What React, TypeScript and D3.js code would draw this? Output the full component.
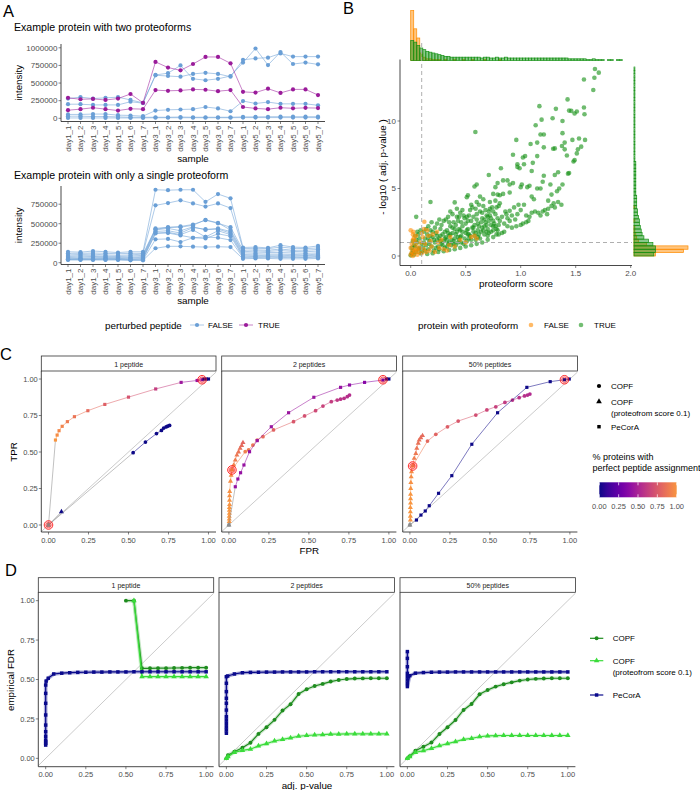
import React from "react";
import * as d3 from "d3";

const FONT = "'Liberation Sans', Arial, Helvetica, sans-serif";
const TICK_COL = "#4D4D4D";
const AX = "#1A1A1A";

// ================= Panel A data =================
const samples = ["day1_1","day1_2","day1_3","day1_4","day1_5","day1_6","day1_7","day3_1","day3_2","day3_3","day3_4","day3_5","day3_6","day3_7","day5_1","day5_2","day5_3","day5_4","day5_5","day5_6","day5_7"];
const intensityTicksTop = [0, 250000, 500000, 750000, 1000000];
const intensityTicksBottom = [0, 250000, 500000, 750000];
// intensities in thousands
const twoPfFalse = [
  [280,300,280,290,300,260,220, 615,640,750,560,540,560,600, 790,990,755,940,770,790,765],
  [200,200,190,190,190,235,215, 610,600,590,630,645,630,590, 830,850,860,920,875,875,875],
  [55,55,60,60,45,40,30, 110,120,125,130,160,140,100, 245,210,230,205,205,205,185],
  [30,30,25,25,20,15,15, 15,15,18,15,15,15,15, 20,20,22,23,23,23,23],
  [5,5,5,5,5,5,5, 8,8,8,8,8,8,8, 10,10,10,10,10,10,10],
];
const twoPfTrue = [
  [290,270,275,260,280,345,220, 800,720,680,770,870,870,780, 375,365,420,360,410,410,330],
  [115,130,150,130,110,135,130, 400,390,395,410,405,385,400, 160,140,130,150,142,148,145],
];
const onePfFalse = [
  [140,135,150,140,130,140,140, 935,930,935,935,780,880,825, 195,200,190,225,200,195,215],
  [120,120,125,120,115,120,120, 735,765,800,760,720,760,700, 180,185,180,200,185,180,190],
  [100,105,110,100,95,100,110, 440,455,465,490,545,505,455, 160,165,160,175,160,160,170],
  [85,90,90,85,80,85,95, 430,450,455,480,550,510,420, 140,150,145,155,145,140,150],
  [75,75,80,75,70,70,80, 420,440,410,460,420,440,400, 125,125,130,130,125,120,125],
  [65,60,65,65,60,60,70, 400,410,380,450,430,430,380, 105,110,110,110,105,100,110],
  [55,55,55,55,55,50,55, 380,390,360,420,330,410,360, 90,90,95,95,90,90,95],
  [45,45,45,50,45,40,45, 375,380,350,320,310,370,340, 75,80,80,80,75,75,80],
  [40,40,40,40,40,35,35, 300,305,265,320,330,320,290, 65,65,70,65,70,65,70],
  [35,35,35,35,35,30,30, 185,210,210,205,200,205,200, 50,55,55,50,50,50,55],
];
const BLUE = "#6A9FD6";
const PURPLE = "#9A1B9A";

// ================= Panel B data =================
const scoreTicks = [0, 0.5, 1, 1.5, 2];
const scoreTickLabels = ["0.0", "0.5", "1.0", "1.5", "2.0"];
const pTicks = [0, 5, 10];
const greenPts: [number, number][] = [
  [1.675,13.85],[1.71,13.58],[1.67,13.2],[1.575,13.07],[1.66,12.3],[1.426,11.6],[1.17,11.1],[1.32,10.9],[1.575,11.0],[1.44,10.77],[1.46,10.75],[1.51,10.7],[1.49,10.55],[1.58,10.5],[1.19,10.1],[1.29,10.2],[1.38,10.0],[1.136,9.68],[1.18,9.0],[1.21,9.0],[1.38,9.1],[0.588,9.18],[0.96,8.6],[1.47,8.6],[1.53,8.7],[1.585,8.6],[1.09,8.3],[1.15,8.4],[1.31,7.97],[1.295,7.95],[1.21,8.05],[1.375,8.15],[1.4,8.4],[1.42,7.45],[1.4,7.9],[1.52,7.9],[1.55,8.1],[1.51,7.6],[1.48,7.0],[1.49,7.1],[0.93,7.5],[1.02,7.3],[1.04,7.4],[0.97,6.6],[0.99,6.5],[0.97,6.8],[1.03,6.8],[1.11,6.9],[1.15,7.4],[1.1,6.3],[0.82,6.5],[0.71,6.0],[1.21,5.95],[1.31,6.0],[1.34,6.2],[1.43,6.1],[1.44,6.15],[1.2,5.5],[1.27,5.3],[1.33,4.8],[1.38,5.3],[1.35,5.0],[1.15,5.0],[1.18,5.0],[1.06,5.1],[1.08,5.2],[1.0,5.1],[1.01,5.3],[0.93,5.4],[0.9,5.3],[0.9,4.7],[0.88,5.6],[0.84,5.6],[0.79,5.4],[0.77,5.1],[0.6,5.3],[0.58,5.15],[0.52,4.5],[0.51,4.35],[0.4,3.97],[0.18,4.0],[0.05,2.9],[1.28,4.55],[1.37,3.8],[1.25,4.1],[1.3,3.9],[1.34,4.0],[1.1,4.4],[1.12,4.2],[0.97,3.1],[0.87,3.1],[0.9,3.35],[0.78,3.6],[0.72,3.5],[0.75,3.3],[0.81,4.5],[0.84,4.6],[0.75,4.6],[0.79,4.55],[0.81,3.9],[0.66,4.2],[0.6,4.0],
  [0.83,1.7],[0.88,2.2],[0.92,2.1],[0.96,2.2],[1.0,2.3],[1.02,2.4],[1.05,2.5],[1.07,2.6],[1.08,2.9],[1.1,3.2],[1.13,3.3],[1.16,3.2],[1.2,3.3],[1.22,3.4],[1.25,3.5],[1.28,3.7],[1.31,3.6],[1.24,3.1],[1.18,3.0],[1.05,3.0],[0.95,2.7],[0.9,2.6],[0.85,2.4],[0.78,2.0],[0.8,2.3],[0.75,2.2],
  [0.1,0.3],[0.11,0.6],[0.12,1.0],[0.13,1.3],[0.14,0.8],[0.15,1.6],[0.16,0.5],[0.17,1.1],[0.18,1.9],[0.19,0.7],[0.2,1.4],[0.12,1.8],[0.14,2.0],[0.16,2.2],[0.18,1.5],
  [0.21,0.4],[0.22,1.0],[0.23,1.7],[0.24,2.4],[0.25,0.7],[0.26,1.3],[0.27,2.0],[0.28,0.9],[0.29,1.6],[0.3,2.6],[0.22,2.1],[0.24,1.2],[0.26,0.5],[0.28,2.3],[0.3,1.1],
  [0.31,0.6],[0.32,1.4],[0.33,1.9],[0.34,2.9],[0.35,1.0],[0.36,2.2],[0.37,0.8],[0.38,1.7],[0.39,2.5],[0.4,1.3],[0.32,2.7],[0.34,0.9],[0.36,1.6],[0.38,3.1],[0.4,2.0],[0.33,1.2],
  [0.41,0.8],[0.42,1.8],[0.43,2.6],[0.44,1.2],[0.45,3.2],[0.46,1.5],[0.47,2.2],[0.48,0.9],[0.49,2.8],[0.5,1.7],[0.42,3.5],[0.44,2.0],[0.46,1.0],[0.48,3.0],[0.5,2.4],[0.43,1.4],
  [0.51,1.1],[0.52,2.0],[0.53,3.0],[0.54,1.5],[0.55,2.6],[0.56,3.6],[0.57,1.8],[0.58,2.3],[0.59,1.2],[0.6,3.1],[0.52,1.6],[0.54,3.4],[0.56,2.1],[0.58,1.5],[0.6,2.7],[0.55,3.8],
  [0.61,1.4],[0.62,2.2],[0.63,3.3],[0.64,1.8],[0.65,2.8],[0.66,3.7],[0.67,1.6],[0.68,2.5],[0.69,3.0],[0.7,2.0],[0.62,3.8],[0.64,2.5],[0.66,1.9],[0.68,3.4],[0.7,1.5],[0.63,4.4],
  [0.71,2.6],[0.72,3.0],[0.73,1.8],[0.74,3.6],[0.76,2.4],[0.77,3.1],[0.78,1.6],[0.79,2.8],[0.8,3.7],[0.72,4.0],[0.75,1.9],[0.77,4.1],[0.73,2.3],
  [0.0,0.05],[0.01,0.2],[0.02,0.4],[0.03,0.1],[0.04,0.7],[0.05,0.3],[0.06,1.0],[0.07,0.5],[0.08,1.3],[0.09,0.2],[0.1,0.9],[0.02,1.1],[0.04,1.5],[0.06,1.8],[0.08,0.6],[0.03,0.8],[0.05,1.2],[0.07,1.6],[0.09,1.9],[0.01,0.6],
  [0.15,0.15],[0.2,0.2],[0.25,0.3],[0.3,0.35],[0.35,0.45],[0.4,0.5],[0.45,0.6],[0.5,0.7],[0.55,0.8],[0.6,0.9],[0.65,1.0],[0.7,1.2],[0.75,1.4],[0.8,1.6],[0.85,1.8],
  [0.27,1.5],[0.31,1.8],[0.35,2.5],[0.39,1.1],[0.41,2.3],[0.45,1.9],[0.47,3.4],[0.51,2.9],[0.53,1.3],[0.57,2.9],[0.59,3.5],[0.61,2.4],[0.65,3.2],[0.67,2.2],[0.69,1.8],[0.71,3.3],[0.26,2.7],[0.44,2.9],[0.36,3.3],[0.19,2.5],
  [0.13,0.4],[0.17,0.9],[0.21,1.2],[0.23,0.6],[0.27,1.1],[0.29,0.8],[0.31,1.3],[0.33,0.7],[0.35,1.5],[0.37,1.2],[0.39,0.9],[0.41,1.6],[0.43,1.0],[0.45,1.4],[0.47,1.8],[0.49,1.3],[0.51,1.9],[0.53,1.6],[0.55,1.2],[0.57,2.1],[0.59,1.7],[0.61,1.9],[0.63,1.3],[0.65,2.1],[0.67,2.7],[0.69,2.3],[0.71,1.7],[0.73,2.8],[0.75,2.6],[0.77,2.2],[0.79,1.9],[0.81,2.6],[0.83,2.9],[0.86,3.3],[0.88,2.8],[0.92,3.0],[0.94,3.6],[0.98,3.8],[1.0,3.4],[1.03,3.8],[0.24,1.5],[0.34,1.7],[0.46,2.5],[0.52,2.6],[0.62,1.6],[0.7,2.9],[0.16,1.3],[0.2,1.8],[0.38,2.1],[0.42,2.9]
];
const orangePts: [number, number][] = [
  [0.0,0.1],[0.01,0.3],[0.02,0.0],[0.03,0.5],[0.0,0.6],[0.01,0.9],[0.02,1.2],[0.03,0.2],[0.04,0.4],[0.05,0.8],[0.06,0.1],[0.07,0.3],[0.08,0.6],[0.02,1.6],[0.0,1.9],[0.05,1.5],[0.09,1.0],[0.1,0.2],[0.11,1.4],[0.12,0.5],[0.13,0.9],[0.15,1.9],[0.16,1.5],[0.17,0.4],[0.18,1.1],[0.19,0.7],[0.2,1.6],[0.22,0.3],[0.24,1.8],[0.26,0.6],[0.28,1.2],[0.3,0.5],[0.33,0.4],[0.36,1.4],[0.4,0.7],[0.45,1.2],[0.124,2.54],[0.024,1.8],[0.04,1.1],[0.1,1.7],[0.14,0.3],[0.06,0.5],[0.55,1.4],[0.58,1.5],[0.6,1.3],[0.35,0.8],[0.5,1.0],[0.03,1.35],[0.12,2.0],[0.25,1.0]
];
const histBinScore = 0.0275;
const orangeTopCounts = [60,38,27,9,4,2,2,1,1,1,0,1,0,0,1,0,0,1,0,0,1,0,0,0,1,0,0,0,0,1,0,0,0,0,0,0,0,0,0,0,0,0,0,0,0,0,0,0,0,0,0,0,0,0,0,0,0,0,0,0,0,0,0,0,0,0,0,0,0,0];
const greenTopCounts = [24,22,18,15,13,11,10,9,8,7,6,5,5,4,4,4,4,4,4,4,4,4,4,3,4,4,3,3,4,3,3,4,3,3,3,3,3,3,3,3,3,3,3,3,3,3,3,3,3,3,3,3,2,2,2,2,2,2,1,1,2,1,1,1,0,1,1,0,1,1];
const histBinP = 0.25;
const orangeRightCounts = [24,55,60,14,5,3,2,1,1,0,1,0,0,0,1,0,0,0,0,0,0,0,0,0,0,0,0,0,0,0,0,0,0,0,0,0,0,0,0,0,0,0,0,0,0,0,0,0,0,0,0,0,0,0,0,0];
const greenRightCounts = [22,24,24,21,16,11,9,8,7,6,6,5,4,4,3,3,3,3,2,2,2,2,2,2,2,2,2,2,1,1,1,1,1,1,1,1,1,1,1,1,1,1,1,1,1,1,1,1,1,1,1,1,1,1,1,1];
const ORANGE = "#FF8C00";
const GREEN = "#169216";

// ================= Panel C data =================
const facets = ["1 peptide", "2 peptides", "50% peptides"];
const rateTicks = [0, 0.25, 0.5, 0.75, 1];
const rateLabels = ["0.00", "0.25", "0.50", "0.75", "1.00"];
type RocPt = [number, number, number | null];
const rocPeCorA: RocPt[][] = [
  [[0,0,null],[0.0435,0.582,1.0],[0.054,0.616,0.97],[0.066,0.646,0.95],[0.0855,0.676,0.93],[0.118,0.708,0.9],[0.162,0.742,0.87],[0.246,0.783,0.83],[0.352,0.826,0.78],[0.5,0.876,0.72],[0.67,0.932,0.62],[0.829,0.977,0.45],[0.929,0.99,0.42],[0.96,0.995,0.4],[0.972,1,0],[0.986,1,0],[1,1,0]],
  [[0,0,null],[0.04,0.262,0.42],[0.056,0.315,0.42],[0.073,0.358,0.42],[0.094,0.411,0.42],[0.129,0.502,0.42],[0.177,0.578,0.43],[0.265,0.673,0.43],[0.373,0.769,0.44],[0.531,0.875,0.44],[0.698,0.943,0.42],[0.754,0.959,0.4],[0.848,0.977,0.36],[0.963,0.993,0.3],[0.985,1,0],[1,1,0]],
  [[0,0,null],[0.041,0.034,0],[0.069,0.068,0],[0.096,0.096,0],[0.121,0.132,0],[0.179,0.217,0],[0.262,0.338,0],[0.387,0.553,0],[0.548,0.769,0],[0.731,0.943,0],[0.877,0.982,0],[0.966,0.995,0],[0.996,1,0]],
];
const rocCOPF: RocPt[][] = [
  [[0,0,null],[0.529,0.495,0],[0.606,0.568,0],[0.675,0.626,0],[0.706,0.648,0],[0.72,0.664,0],[0.735,0.672,0],[0.745,0.677,0],[0.757,0.682,0]],
  [[0.019,0.38,0.93],[0.102,0.502,0.92],[0.123,0.514,0.9],[0.15,0.548,0.88],[0.177,0.582,0.86],[0.213,0.605,0.83],[0.279,0.651,0.79],[0.404,0.708,0.74],[0.473,0.747,0.71],[0.542,0.783,0.68],[0.588,0.815,0.65],[0.64,0.845,0.62],[0.677,0.856,0.6],[0.698,0.862,0.58],[0.72,0.868,0.57],[0.74,0.879,0.56],[0.754,0.89,0.55]],
  [[0.02,0.41,0.9],[0.11,0.575,0.82],[0.162,0.621,0.8],[0.235,0.673,0.77],[0.302,0.712,0.74],[0.412,0.753,0.7],[0.481,0.788,0.67],[0.537,0.81,0.64],[0.594,0.84,0.61],[0.641,0.856,0.59],[0.683,0.872,0.57],[0.716,0.884,0.56],[0.735,0.89,0.55],[0.75,0.897,0.54]],
];
const rocCOPF01: RocPt[][] = [
  [[0,0,null],[0.081,0.091,0]],
  [[0,0,null],[0.002,0.023,1],[0.002,0.04,1],[0.002,0.06,1],[0.003,0.08,1],[0.003,0.1,1],[0.003,0.12,1],[0.004,0.14,0.99],[0.004,0.17,0.99],[0.004,0.2,0.98],[0.005,0.23,0.98],[0.01,0.3,0.97],[0.014,0.34,0.96],[0.019,0.377,0.95],[0.03,0.41,0.93],[0.04,0.445,0.91],[0.05,0.479,0.89],[0.06,0.5,0.87],[0.07,0.525,0.85],[0.08,0.545,0.83],[0.088,0.564,0.81]],
  [[0,0,null],[0.003,0.034,1],[0.003,0.06,1],[0.003,0.09,1],[0.003,0.12,1],[0.004,0.15,1],[0.004,0.18,1],[0.004,0.21,1],[0.005,0.25,0.99],[0.006,0.29,0.98],[0.008,0.33,0.97],[0.01,0.365,0.96],[0.017,0.404,0.94],[0.027,0.457,0.91],[0.037,0.49,0.89],[0.043,0.525,0.87],[0.052,0.56,0.86],[0.058,0.582,0.85],[0.068,0.598,0.84],[0.079,0.612,0.83]],
];
const rocMarked: [number, number][][] = [
  [[0,0],[0.96,0.995]],
  [[0.019,0.377],[0.963,0.995]],
  [[0.017,0.404],[0.966,0.995]],
];
const assignTicks = [0, 0.25, 0.5, 0.75, 1];

// ================= Panel D data =================
const fdrCOPF: [number, number][][] = [
  [[0.5,1],[0.55,1],[0.6,0.571],[0.65,0.571],[0.7,0.572],[0.75,0.572],[0.8,0.573],[0.85,0.574],[0.9,0.575],[0.95,0.575],[1,0.575]],
  [[0,0],[0.01,0.02],[0.05,0.042],[0.1,0.067],[0.15,0.099],[0.2,0.155],[0.25,0.197],[0.3,0.244],[0.35,0.303],[0.4,0.343],[0.45,0.408],[0.5,0.438],[0.55,0.459],[0.6,0.472],[0.65,0.487],[0.7,0.497],[0.75,0.503],[0.8,0.506],[0.85,0.507],[0.9,0.508],[0.95,0.508],[1,0.508]],
  [[0,0],[0.015,0.014],[0.05,0.048],[0.1,0.074],[0.15,0.1],[0.2,0.154],[0.25,0.197],[0.3,0.243],[0.35,0.307],[0.4,0.345],[0.45,0.406],[0.5,0.433],[0.55,0.455],[0.6,0.47],[0.65,0.482],[0.7,0.493],[0.75,0.5],[0.8,0.504],[0.85,0.506],[0.9,0.508],[0.95,0.508],[1,0.508]],
];
const fdrCOPF01: [number, number][][] = [
  [[0.55,1],[0.6,0.518],[0.65,0.518],[0.7,0.518],[0.75,0.518],[0.8,0.518],[0.85,0.518],[0.9,0.518],[0.95,0.518],[1,0.518]],
  [[0,0],[0.01,0.01],[0.05,0.038],[0.1,0.05],[0.15,0.058],[0.2,0.079],[0.25,0.093],[0.3,0.11],[0.35,0.12],[0.4,0.13],[0.45,0.14],[0.5,0.145],[0.55,0.148],[0.6,0.15],[0.65,0.153],[0.7,0.154],[0.75,0.155],[0.8,0.155],[0.85,0.155],[0.9,0.155],[0.95,0.155],[1,0.155]],
  [[0,0],[0.015,0.01],[0.05,0.038],[0.1,0.048],[0.15,0.063],[0.2,0.08],[0.25,0.093],[0.3,0.106],[0.35,0.12],[0.4,0.127],[0.45,0.137],[0.5,0.142],[0.55,0.144],[0.6,0.145],[0.65,0.145],[0.7,0.145],[0.75,0.145],[0.8,0.145],[0.85,0.145],[0.9,0.145],[0.95,0.145],[1,0.145]],
];
const fdrPeCorA: [number, number][][] = [
  [[0,0.084],[0,0.095],[0,0.105],[0,0.116],[0,0.14],[0,0.169],[0,0.211],[0,0.275],[0,0.349],[0,0.412],[0,0.465],[0.003,0.49],[0.016,0.508],[0.05,0.535],[0.1,0.54],[0.15,0.543],[0.2,0.545],[0.25,0.546],[0.3,0.547],[0.35,0.547],[0.4,0.548],[0.45,0.548],[0.5,0.548],[0.55,0.549],[0.6,0.549],[0.65,0.549],[0.7,0.549],[0.75,0.549],[0.8,0.549],[0.85,0.549],[0.9,0.549],[0.95,0.549],[1,0.549]],
  [[0,0.159],[0,0.18],[0,0.2],[0,0.222],[0,0.243],[0,0.264],[0,0.306],[0,0.349],[0,0.381],[0,0.423],[0,0.476],[0,0.518],[0.008,0.522],[0.05,0.535],[0.1,0.543],[0.15,0.545],[0.2,0.546],[0.25,0.547],[0.3,0.547],[0.35,0.548],[0.4,0.548],[0.45,0.548],[0.5,0.548],[0.55,0.549],[0.6,0.549],[0.65,0.549],[0.7,0.549],[0.75,0.549],[0.8,0.549],[0.85,0.549],[0.9,0.549],[0.95,0.549],[1,0.549]],
  [[0,0.677],[0,0.634],[0,0.581],[0,0.539],[0,0.518],[0,0.497],[0,0.476],[0,0.455],[0.015,0.524],[0.05,0.54],[0.1,0.544],[0.15,0.546],[0.2,0.547],[0.25,0.547],[0.3,0.548],[0.35,0.548],[0.4,0.548],[0.45,0.548],[0.5,0.548],[0.55,0.548],[0.6,0.548],[0.65,0.548],[0.7,0.548],[0.75,0.548],[0.8,0.548],[0.85,0.548],[0.9,0.548],[0.95,0.548],[1,0.548]],
];
const D_GREEN = "#1E8C1E";
const D_LIME = "#3ADC3A";
const D_NAVY = "#0A0A8C";

const plasmaC = (v: number | null) => (v == null ? "#8C8C8C" : d3.interpolatePlasma(v * 0.75));

const sym = (type: any, size: number) => d3.symbol().type(type).size(size)() as string;

// ================= Components =================
function IntensityPlot(props: any) {
  const { title, titleY, y, ticks, axisTop, axisY, sampleY, falseS, trueS } = props;
  const x = d3.scalePoint<string>().domain(samples).range([68, 318]);
  const line = d3.line<number>().x((_, i) => x(samples[i]) as number).y((d) => y(d * 1000));
  const render = (s: number[][], col: string) =>
    s.map((vals, k) => (
      <g key={k}>
        <path d={line(vals) as string} fill="none" stroke={col} strokeOpacity={0.55} strokeWidth={1} />
        {vals.map((v, i) => (
          <circle key={i} cx={x(samples[i])} cy={y(v * 1000)} r={2.1} fill={col} />
        ))}
      </g>
    ));
  return (
    <g>
      <text x={14} y={titleY} fontSize={10.6} fill="#000">{title}</text>
      {render(falseS, BLUE)}
      {render(trueS, PURPLE)}
      <line x1={61} x2={61} y1={axisTop} y2={axisY} stroke={AX} strokeWidth={0.8} />
      <line x1={61} x2={325} y1={axisY} y2={axisY} stroke={AX} strokeWidth={0.8} />
      {ticks.map((t: number) => (
        <g key={t}>
          <line x1={58.5} x2={61} y1={y(t)} y2={y(t)} stroke="#333" strokeWidth={0.6} />
          <text x={57.5} y={y(t)} dy="0.35em" textAnchor="end" fontSize={8} fill={TICK_COL}>{t}</text>
        </g>
      ))}
      {samples.map((s) => (
        <g key={s}>
          <line x1={x(s)} x2={x(s)} y1={axisY} y2={axisY + 2.5} stroke="#333" strokeWidth={0.6} />
          <text transform={`translate(${x(s)},${axisY + 4}) rotate(-90)`} textAnchor="end" dy="0.35em" fontSize={8} fill={TICK_COL}>{s}</text>
        </g>
      ))}
      <text x={193} y={sampleY} textAnchor="middle" fontSize={9.8}>sample</text>
      <text transform={`translate(22,${(axisTop + axisY) / 2}) rotate(-90)`} textAnchor="middle" fontSize={9.8}>intensity</text>
    </g>
  );
}

function PanelA() {
  const y1 = d3.scaleLinear().domain([0, 1e6]).range([118.3, 47.8]);
  const y2 = d3.scaleLinear().domain([0, 1e6]).range([262.7, 184.7]);
  return (
    <g>
      <text x={3} y={17} fontSize={16.5}>A</text>
      <IntensityPlot title="Example protein with two proteoforms" titleY={31} y={y1} ticks={intensityTicksTop} axisTop={44} axisY={121.5} sampleY={162} falseS={twoPfFalse} trueS={twoPfTrue} />
      <IntensityPlot title="Example protein with only a single proteoform" titleY={179} y={y2} ticks={intensityTicksBottom} axisTop={186} axisY={264.5} sampleY={304} falseS={onePfFalse} trueS={[]} />
      <text x={105} y={328.5} fontSize={9.8}>perturbed peptide</text>
      <line x1={190} x2={204} y1={325} y2={325} stroke={BLUE} strokeOpacity={0.55} />
      <circle cx={197} cy={325} r={2.1} fill={BLUE} />
      <text x={208} y={328} fontSize={8}>FALSE</text>
      <line x1={239} x2={253} y1={325} y2={325} stroke={PURPLE} strokeOpacity={0.55} />
      <circle cx={246} cy={325} r={2.1} fill={PURPLE} />
      <text x={258} y={328} fontSize={8}>TRUE</text>
    </g>
  );
}

function PanelB() {
  const x = d3.scaleLinear().domain([0, 2]).range([410.7, 630.7]);
  const y = d3.scaleLinear().domain([0, 10]).range([256, 121]);
  const hy = d3.scaleLinear().domain([0, 60]).range([60.5, 10.5]);
  const hx = d3.scaleLinear().domain([0, 60]).range([634, 688]);
  const topBars = (counts: number[], col: string) =>
    counts.map((c, i) => (
      <rect key={i} x={x(i * histBinScore)} width={x((i + 1) * histBinScore) - x(i * histBinScore)} y={hy(c)} height={hy(0) - hy(c)} fill={col} fillOpacity={0.5} stroke={col} strokeWidth={0.7} />
    ));
  const rightBars = (counts: number[], col: string) =>
    counts.map((c, i) => (
      <rect key={i} y={y((i + 1) * histBinP)} height={y(i * histBinP) - y((i + 1) * histBinP)} x={hx(0)} width={hx(c) - hx(0)} fill={col} fillOpacity={0.5} stroke={col} strokeWidth={0.7} />
    ));
  return (
    <g>
      <text x={343} y={13.5} fontSize={16.5}>B</text>
      {topBars(orangeTopCounts, ORANGE)}
      {topBars(greenTopCounts, GREEN)}
      {rightBars(orangeRightCounts, ORANGE)}
      {rightBars(greenRightCounts, GREEN)}
      {greenPts.map((p, i) => (
        <circle key={"g" + i} cx={x(p[0])} cy={y(p[1])} r={2.3} fill={GREEN} fillOpacity={0.62} />
      ))}
      {orangePts.map((p, i) => (
        <circle key={"o" + i} cx={x(p[0])} cy={y(p[1])} r={2.3} fill={ORANGE} fillOpacity={0.6} />
      ))}
      <line x1={x(0.1)} x2={x(0.1)} y1={43} y2={265.5} stroke="#A6A6A6" strokeDasharray="4,3" strokeWidth={0.9} />
      <line x1={400} x2={632} y1={y(1)} y2={y(1)} stroke="#A6A6A6" strokeDasharray="4,3" strokeWidth={0.9} />
      <line x1={400} x2={400} y1={59.5} y2={265.5} stroke={AX} strokeWidth={0.8} />
      <line x1={400} x2={632} y1={265.5} y2={265.5} stroke={AX} strokeWidth={0.8} />
      {scoreTicks.map((t, i) => (
        <g key={t}>
          <line x1={x(t)} x2={x(t)} y1={265.5} y2={268} stroke="#333" strokeWidth={0.6} />
          <text x={x(t)} y={276} textAnchor="middle" fontSize={8} fill={TICK_COL}>{scoreTickLabels[i]}</text>
        </g>
      ))}
      {pTicks.map((t) => (
        <g key={t}>
          <line x1={397.5} x2={400} y1={y(t)} y2={y(t)} stroke="#333" strokeWidth={0.6} />
          <text x={396} y={y(t)} dy="0.35em" textAnchor="end" fontSize={8} fill={TICK_COL}>{t}</text>
        </g>
      ))}
      <text x={516} y={287} textAnchor="middle" fontSize={9.8}>proteoform score</text>
      <text transform="translate(386,167) rotate(-90)" textAnchor="middle" fontSize={9.8}>- log10 ( adj. p-value )</text>
      <text x={418} y={328.5} fontSize={9.8}>protein with proteoform</text>
      <circle cx={531} cy={325} r={2.3} fill={ORANGE} fillOpacity={0.6} />
      <text x={544} y={328} fontSize={8}>FALSE</text>
      <circle cx={581} cy={325} r={2.3} fill={GREEN} fillOpacity={0.6} />
      <text x={594} y={328} fontSize={8}>TRUE</text>
    </g>
  );
}

function RocSeries({ pts, x, y, shape }: any) {
  const shapePath = shape === "circle" ? sym(d3.symbolCircle, 11) : shape === "triangle" ? sym(d3.symbolTriangle, 11) : sym(d3.symbolSquare, 10);
  return (
    <g>
      {pts.slice(0, -1).map((p: RocPt, i: number) => (
        <line key={i} x1={x(p[0])} y1={y(p[1])} x2={x(pts[i + 1][0])} y2={y(pts[i + 1][1])} stroke={plasmaC(p[2])} strokeOpacity={0.6} strokeWidth={0.9} />
      ))}
      {pts.map((p: RocPt, i: number) => (
        <path key={"p" + i} d={shapePath} transform={`translate(${x(p[0])},${y(p[1])})`} fill={plasmaC(p[2])} />
      ))}
    </g>
  );
}

function PanelC() {
  const lefts = [41.3, 221.7, 402.7];
  const w = 174.7;
  const y = d3.scaleLinear().domain([-0.048, 1.055]).range([532, 371]);
  const gradStops = [0, 0.1, 0.2, 0.3, 0.4, 0.5, 0.6, 0.7, 0.8, 0.9, 1];
  const cb = d3.scaleLinear().domain([0, 1]).range([599.3, 676.7]);
  return (
    <g>
      <text x={0} y={360} fontSize={16.5}>C</text>
      {facets.map((f, k) => {
        const L = lefts[k];
        const x = d3.scaleLinear().domain([-0.045, 1.047]).range([L, L + w]);
        return (
          <g key={f}>
            <rect x={L} y={356} width={w} height={15} fill="#FFFFFF" stroke="#333" strokeWidth={0.8} />
            <text x={L + w / 2} y={366.5} textAnchor="middle" fontSize={7} fill="#1A1A1A">{f}</text>
            <line x1={x(-0.045)} y1={y(-0.045)} x2={x(1.047)} y2={y(1.047)} stroke="#BEBEBE" strokeWidth={0.8} />
            <RocSeries pts={rocCOPF01[k]} x={x} y={y} shape="triangle" />
            <RocSeries pts={rocCOPF[k]} x={x} y={y} shape="circle" />
            <RocSeries pts={rocPeCorA[k]} x={x} y={y} shape="square" />
            {rocMarked[k].map((p, i) => (
              <g key={"m" + i}>
                <circle cx={x(p[0])} cy={y(p[1])} r={4.3} fill="#FF0000" fillOpacity={0.12} stroke="#FF1A1A" strokeWidth={0.9} />
                <circle cx={x(p[0])} cy={y(p[1])} r={2.7} fill="none" stroke="#FF1A1A" strokeWidth={0.6} />
              </g>
            ))}
            <line x1={L} x2={L} y1={371} y2={532} stroke={AX} strokeWidth={0.8} />
            <line x1={L} x2={L + w} y1={532} y2={532} stroke={AX} strokeWidth={0.8} />
            {rateTicks.map((t, i) => (
              <g key={t}>
                <line x1={x(t)} x2={x(t)} y1={532} y2={534.5} stroke="#333" strokeWidth={0.6} />
                <text x={x(t)} y={542.5} textAnchor="middle" fontSize={7.5} fill={TICK_COL}>{rateLabels[i]}</text>
              </g>
            ))}
            {k === 0 && rateTicks.map((t, i) => (
              <g key={"y" + t}>
                <line x1={L - 2.5} x2={L} y1={y(t)} y2={y(t)} stroke="#333" strokeWidth={0.6} />
                <text x={L - 3.5} y={y(t)} dy="0.35em" textAnchor="end" fontSize={7.5} fill={TICK_COL}>{rateLabels[i]}</text>
              </g>
            ))}
          </g>
        );
      })}
      <text x={309.3} y={554} textAnchor="middle" fontSize={9.8}>FPR</text>
      <text transform="translate(17,452) rotate(-90)" textAnchor="middle" fontSize={9.8}>TPR</text>
      <path d={sym(d3.symbolCircle, 14)} transform="translate(599,386)" fill="#000" />
      <text x={611} y={389} fontSize={8}>COPF</text>
      <path d={sym(d3.symbolTriangle, 14)} transform="translate(599,401.5)" fill="#000" />
      <text x={611} y={405} fontSize={8}>COPF</text>
      <text x={611} y={415.5} fontSize={8}>(proteofrom score 0.1)</text>
      <path d={sym(d3.symbolSquare, 12)} transform="translate(599,426.7)" fill="#000" />
      <text x={611} y={430} fontSize={8}>PeCorA</text>
      <text x={592.5} y={460} fontSize={9}>% proteins with</text>
      <text x={592.5} y={471} fontSize={9}>perfect peptide assignment</text>
      <defs>
        <linearGradient id="plasmaGrad" x1="0" x2="1" y1="0" y2="0">
          {gradStops.map((s) => (
            <stop key={s} offset={`${s * 100}%`} stopColor={plasmaC(s)} />
          ))}
        </linearGradient>
      </defs>
      <rect x={cb(0)} y={482.3} width={cb(1) - cb(0)} height={15} fill="url(#plasmaGrad)" />
      {assignTicks.map((t) => (
        <g key={t}>
          <line x1={cb(t)} x2={cb(t)} y1={482.3} y2={485.3} stroke="#FFF" strokeWidth={0.7} />
          <line x1={cb(t)} x2={cb(t)} y1={494.3} y2={497.3} stroke="#FFF" strokeWidth={0.7} />
          <text x={cb(t)} y={508.5} textAnchor="middle" fontSize={7.5} fill={TICK_COL}>{t.toFixed(2)}</text>
        </g>
      ))}
    </g>
  );
}

function FdrSeries({ pts, x, y, col, shape, halo }: any) {
  const line = d3.line<[number, number]>().x((d) => x(d[0])).y((d) => y(d[1]));
  const shapePath = shape === "circle" ? sym(d3.symbolCircle, 12) : shape === "triangle" ? sym(d3.symbolTriangle, 13) : sym(d3.symbolSquare, 12);
  return (
    <g>
      <path d={line(pts) as string} fill="none" stroke={col} strokeOpacity={halo} strokeWidth={3.6} />
      <path d={line(pts) as string} fill="none" stroke={col} strokeWidth={1.2} />
      {pts.map((p: [number, number], i: number) => (
        <path key={i} d={shapePath} transform={`translate(${x(p[0])},${y(p[1])})`} fill={col} />
      ))}
    </g>
  );
}

function PanelD() {
  const lefts = [38.3, 219, 400];
  const w = 175.4;
  const y = d3.scaleLinear().domain([-0.053, 1.053]).range([766.7, 592.3]);
  return (
    <g>
      <text x={5} y={576} fontSize={16.5}>D</text>
      {facets.map((f, k) => {
        const L = lefts[k];
        const x = d3.scaleLinear().domain([-0.046, 1.047]).range([L, L + w]);
        return (
          <g key={f}>
            <rect x={L} y={577.7} width={w} height={14.6} fill="#FFFFFF" stroke="#333" strokeWidth={0.8} />
            <text x={L + w / 2} y={588} textAnchor="middle" fontSize={7} fill="#1A1A1A">{f}</text>
            <line x1={x(-0.046)} y1={y(-0.046)} x2={x(1.047)} y2={y(1.047)} stroke="#BEBEBE" strokeWidth={0.8} />
            <FdrSeries pts={fdrCOPF[k]} x={x} y={y} col={D_GREEN} shape="circle" halo={0.2} />
            <FdrSeries pts={fdrCOPF01[k]} x={x} y={y} col={D_LIME} shape="triangle" halo={0.2} />
            <FdrSeries pts={fdrPeCorA[k]} x={x} y={y} col={D_NAVY} shape="square" halo={0.35} />
            <line x1={L} x2={L} y1={592.3} y2={766.7} stroke={AX} strokeWidth={0.8} />
            <line x1={L} x2={L + w} y1={766.7} y2={766.7} stroke={AX} strokeWidth={0.8} />
            {rateTicks.map((t, i) => (
              <g key={t}>
                <line x1={x(t)} x2={x(t)} y1={766.7} y2={769.2} stroke="#333" strokeWidth={0.6} />
                <text x={x(t)} y={776.5} textAnchor="middle" fontSize={7.5} fill={TICK_COL}>{rateLabels[i]}</text>
              </g>
            ))}
            {k === 0 && rateTicks.map((t, i) => (
              <g key={"y" + t}>
                <line x1={L - 2.5} x2={L} y1={y(t)} y2={y(t)} stroke="#333" strokeWidth={0.6} />
                <text x={L - 3.5} y={y(t)} dy="0.35em" textAnchor="end" fontSize={7.5} fill={TICK_COL}>{rateLabels[i]}</text>
              </g>
            ))}
          </g>
        );
      })}
      <text x={307} y={788.5} textAnchor="middle" fontSize={9.8}>adj. p-value</text>
      <text transform="translate(14,680) rotate(-90)" textAnchor="middle" fontSize={9.8}>empirical FDR</text>
      <line x1={590} x2={603.3} y1={638.3} y2={638.3} stroke={D_GREEN} strokeWidth={1.2} />
      <path d={sym(d3.symbolCircle, 12)} transform="translate(596.6,638.3)" fill={D_GREEN} />
      <text x={612.7} y={641.3} fontSize={8}>COPF</text>
      <line x1={590} x2={603.3} y1={660.7} y2={660.7} stroke={D_LIME} strokeWidth={1.2} />
      <path d={sym(d3.symbolTriangle, 13)} transform="translate(596.6,660.7)" fill={D_LIME} />
      <text x={612.7} y={664} fontSize={8}>COPF</text>
      <text x={612.7} y={674.5} fontSize={8}>(proteofrom score 0.1)</text>
      <line x1={590} x2={603.3} y1={695} y2={695} stroke={D_NAVY} strokeWidth={1.2} />
      <path d={sym(d3.symbolSquare, 12)} transform="translate(596.6,695)" fill={D_NAVY} />
      <text x={612.7} y={698} fontSize={8}>PeCorA</text>
    </g>
  );
}

export default function App() {
  return (
    <svg width={700} height={790} style={{ position: "absolute", left: 0, top: 0, background: "#FFFFFF" }} fontFamily={FONT}>
      <rect x={0} y={0} width={700} height={790} fill="#FFFFFF" />
      <PanelA />
      <PanelB />
      <PanelC />
      <PanelD />
    </svg>
  );
}
